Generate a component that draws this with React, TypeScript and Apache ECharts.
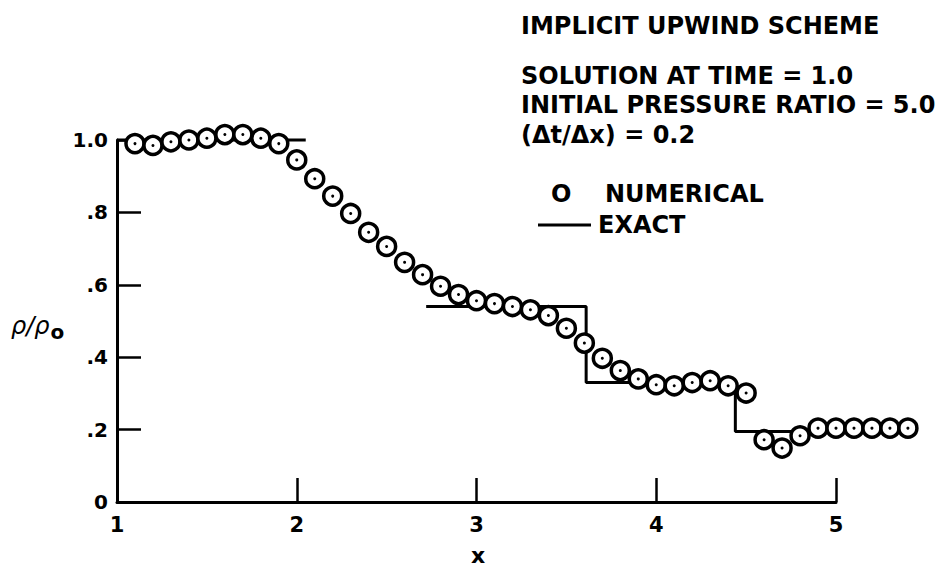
import React, { useEffect, useRef } from "react";
import * as echarts from "echarts";

// Numerical solution (circles)
const numX = [
  1.1, 1.2, 1.3, 1.4, 1.5, 1.6, 1.7, 1.8, 1.9, 2.0,
  2.1, 2.2, 2.3, 2.4, 2.5, 2.6, 2.7, 2.8, 2.9, 3.0,
  3.1, 3.2, 3.3, 3.4, 3.5, 3.6, 3.7, 3.8, 3.9, 4.0,
  4.1, 4.2, 4.3, 4.4, 4.5, 4.6, 4.7, 4.8, 4.9, 5.0,
  5.1, 5.2, 5.3, 5.4,
];
const numY = [
  0.99, 0.985, 0.995, 1.0, 1.005, 1.015, 1.015, 1.005, 0.99, 0.945,
  0.893, 0.845, 0.797, 0.745, 0.706, 0.662, 0.628, 0.596, 0.573, 0.556,
  0.548, 0.54, 0.531, 0.515, 0.48, 0.439, 0.397, 0.363, 0.34, 0.324,
  0.321, 0.33, 0.335, 0.321, 0.301, 0.172, 0.149, 0.183, 0.204, 0.204,
  0.204, 0.204, 0.204, 0.204,
];

// Exact solution (two visible pieces)
const exactX1 = [1.0, 2.05];
const exactY1 = [1.0, 1.0];
const exactX2 = [2.72, 3.61, 3.61, 4.44, 4.44, 5.58];
const exactY2 = [0.54, 0.54, 0.33, 0.33, 0.195, 0.195];

const yTickLabels: Record<string, string> = {
  "0": "0",
  "0.2": ".2",
  "0.4": ".4",
  "0.6": ".6",
  "0.8": ".8",
  "1": "1.0",
};

const titleLines = [
  "IMPLICIT UPWIND SCHEME",
  "SOLUTION AT TIME = 1.0",
  "INITIAL PRESSURE RATIO = 5.0",
  "(\u0394t/\u0394x) = 0.2",
];

const FONT = '"DejaVu Sans", "Liberation Sans", Arial, sans-serif';

export default function App() {
  const ref = useRef<HTMLDivElement>(null);

  useEffect(() => {
    if (!ref.current) return;
    const chart = echarts.init(ref.current, undefined, { renderer: "svg" });

    const numData = numX.map((x, i) => [x, numY[i]]);
    const ex1 = exactX1.map((x, i) => [x, exactY1[i]]);
    const ex2 = exactX2.map((x, i) => [x, exactY2[i]]);

    const titleY = [26, 76, 105, 135];

    chart.setOption({
      animation: false,
      backgroundColor: "#ffffff",
      grid: { left: 117, right: 114, top: 140, bottom: 67 },
      xAxis: {
        type: "value",
        min: 1,
        max: 5,
        interval: 1,
        splitLine: { show: false },
        axisLine: { show: true, lineStyle: { color: "#000", width: 3 } },
        axisTick: { show: true, inside: true, length: 24, lineStyle: { color: "#000", width: 2.5 } },
        axisLabel: {
          color: "#000",
          fontFamily: FONT,
          fontWeight: "bold",
          fontSize: 21,
          margin: 12,
        },
      },
      yAxis: {
        type: "value",
        min: 0,
        max: 1,
        interval: 0.2,
        splitLine: { show: false },
        axisLine: { show: true, lineStyle: { color: "#000", width: 3 } },
        axisTick: { show: true, inside: true, length: 24, lineStyle: { color: "#000", width: 2.5 } },
        axisLabel: {
          color: "#000",
          fontFamily: FONT,
          fontWeight: "bold",
          fontSize: 20,
          margin: 9,
          formatter: (v: number) => yTickLabels[String(Math.round(v * 10) / 10)] ?? "",
        },
      },
      series: [
        {
          name: "EXACT",
          type: "line",
          data: ex1,
          showSymbol: false,
          clip: false,
          lineStyle: { color: "#000", width: 3 },
          z: 2,
        },
        {
          name: "EXACT",
          type: "line",
          data: ex2,
          showSymbol: false,
          clip: false,
          lineStyle: { color: "#000", width: 3 },
          z: 2,
        },
        {
          name: "NUMERICAL",
          type: "scatter",
          data: numData,
          symbol: "circle",
          symbolSize: 18,
          clip: false,
          itemStyle: { color: "#fff", borderColor: "#000", borderWidth: 3.5, opacity: 1 },
          z: 3,
        },
        {
          name: "NUMERICAL-centre",
          type: "scatter",
          data: numData,
          symbol: "circle",
          symbolSize: 3,
          clip: false,
          itemStyle: { color: "#000", opacity: 1 },
          z: 4,
        },
      ],
      graphic: [
        ...titleLines.map((t, i) => ({
          type: "text",
          x: 521,
          y: titleY[i],
          style: {
            text: t,
            font: `bold 24px ${FONT}`,
            fill: "#000",
            textVerticalAlign: "middle",
          },
        })),
        {
          type: "text",
          x: 551,
          y: 194,
          style: {
            text: "O",
            font: `bold 24px ${FONT}`,
            fill: "#000",
            textVerticalAlign: "middle",
          },
        },
        {
          type: "text",
          x: 605,
          y: 194,
          style: {
            text: "NUMERICAL",
            font: `bold 24px ${FONT}`,
            fill: "#000",
            textVerticalAlign: "middle",
          },
        },
        {
          type: "line",
          shape: { x1: 538, y1: 225, x2: 591, y2: 225 },
          style: { stroke: "#000", lineWidth: 3 },
        },
        {
          type: "text",
          x: 598,
          y: 225,
          style: {
            text: "EXACT",
            font: `bold 24px ${FONT}`,
            fill: "#000",
            textVerticalAlign: "middle",
          },
        },
        {
          type: "text",
          x: 478,
          y: 555,
          style: {
            text: "x",
            font: `bold 22px ${FONT}`,
            fill: "#000",
            textAlign: "center",
            textVerticalAlign: "middle",
          },
        },
        {
          type: "text",
          x: 11,
          y: 326,
          style: {
            text: "{a|\u03c1/\u03c1}{b|o}",
            rich: {
              a: { font: `italic 24px ${FONT}`, fill: "#000" },
              b: { font: `bold 20px ${FONT}`, fill: "#000", padding: [12, 0, 0, 1] },
            },
            textVerticalAlign: "middle",
          },
        },
      ],
    });

    return () => chart.dispose();
  }, []);

  return (
    <div
      ref={ref}
      style={{ position: "fixed", left: 0, top: 0, width: 950, height: 569, background: "#fff" }}
    />
  );
}
